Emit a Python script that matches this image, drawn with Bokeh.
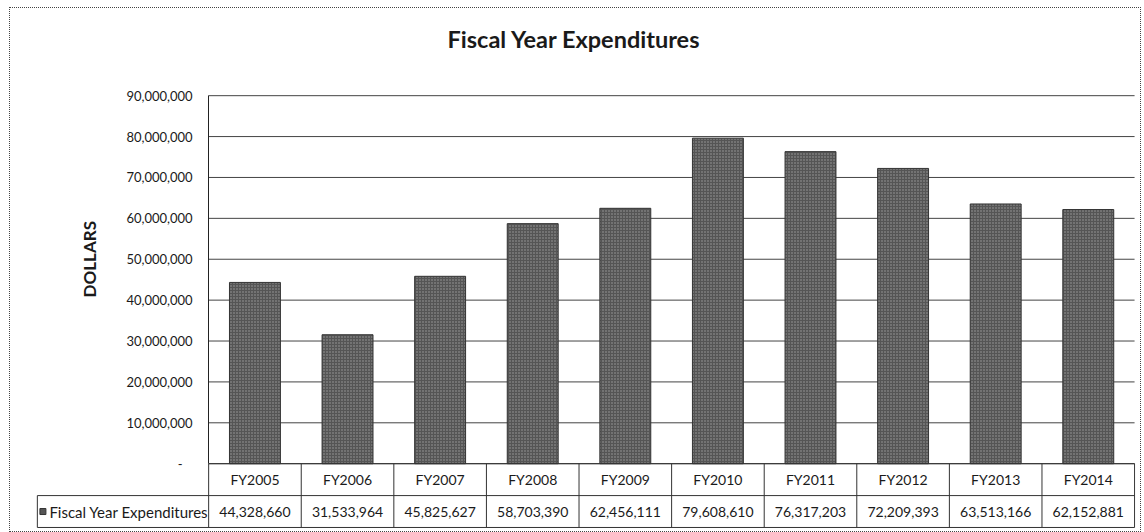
import math
from bokeh.plotting import figure
from bokeh.models import FixedTicker, NumeralTickFormatter, Range1d, ColumnDataSource, Label, Title
from bokeh.core.properties import value
from bokeh.embed import file_html
from bokeh.resources import INLINE

# ---- data ----
categories = ["FY2005", "FY2006", "FY2007", "FY2008", "FY2009",
              "FY2010", "FY2011", "FY2012", "FY2013", "FY2014"]
expenditures = [44328660, 31533964, 45825627, 58703390, 62456111,
                79608610, 76317203, 72209393, 63513166, 62152881]
series_name = "Fiscal Year Expenditures"
chart_title = "Fiscal Year Expenditures"
y_ticks = [0, 10000000, 20000000, 30000000, 40000000, 50000000,
           60000000, 70000000, 80000000, 90000000]

# ---- layout constants ----
FONT = "Lato"
n = len(categories)
centers = [i + 0.5 for i in range(n)]
ROW_H = 7.8e6            # table row height in y data units
LEFT_COL = -1.85         # left edge of the legend column (x units)
Y_MAX = 90e6

p = figure(width=1130, height=523, output_backend="svg", toolbar_location=None,
           x_range=Range1d(-1.87, 10.01), y_range=Range1d(-15.85e6, 92e6),
           min_border_left=25, min_border_right=5, min_border_top=79,
           min_border_bottom=3, x_axis_location=None)
p.margin = (8, 4, 0, 10)
p.styles = {"outline": "1px dotted #444"}
p.outline_line_color = None
p.xgrid.visible = False
p.ygrid.visible = False
p.background_fill_color = "white"
p.border_fill_color = "white"

# title: a blank spacer panel next to the frame, then the real title above it
p.add_layout(Title(text=" ", text_font_size="10px", standoff=22), "above")
p.add_layout(Title(text=chart_title, align="left", offset=412, standoff=0,
                   text_font=FONT, text_font_size="23.5px", text_font_style="bold",
                   text_color="#1a1a1a"), "above")

# y axis placed at x = 0 (start of category columns)
ax = p.yaxis[0]
ax.fixed_location = 0
ax.bounds = (0, Y_MAX)
ax.ticker = FixedTicker(ticks=y_ticks)
ax.formatter = NumeralTickFormatter(format="0,0")
ax.major_label_overrides = {0: "-\u00a0\u00a0\u00a0"}
ax.major_label_text_font = FONT
ax.major_label_text_font_size = "13px"
ax.major_label_text_color = "#1a1a1a"
ax.major_label_standoff = 16
ax.major_tick_out = 0
ax.major_tick_in = 0
ax.minor_tick_out = 0
ax.minor_tick_in = 0
ax.axis_line_color = "#222"

p.add_layout(Label(x=-1.29, y=50e6, text="DOLLARS", angle=math.pi / 2,
                   text_font=FONT, text_font_size="17px", text_font_style="bold",
                   text_align="center", text_baseline="middle", text_color="#1a1a1a"))

# gridlines across the category area
p.segment(x0=[0] * len(y_ticks), x1=[n] * len(y_ticks), y0=y_ticks, y1=y_ticks,
          line_color="#444", line_width=1)

# bars
src = ColumnDataSource(dict(x=centers, top=expenditures, cat=categories))
p.vbar(x="x", top="top", width=0.55, source=src,
       fill_color="#555555", line_color="#333333", line_width=1,
       hatch_pattern="dot", hatch_color="#a0a0a0", hatch_scale=3, hatch_weight=1)

# data table lines
col_edges = list(range(n + 1))
p.segment(x0=col_edges, x1=col_edges, y0=[0] * (n + 1), y1=[-2 * ROW_H] * (n + 1),
          line_color="#333", line_width=1)
p.segment(x0=[LEFT_COL], x1=[LEFT_COL], y0=[-ROW_H], y1=[-2 * ROW_H],
          line_color="#333", line_width=1)
p.segment(x0=[0, LEFT_COL, LEFT_COL], x1=[n, n, n], y0=[0, -ROW_H, -2 * ROW_H],
          y1=[0, -ROW_H, -2 * ROW_H], line_color="#333", line_width=1)

# table texts
p.text(x=centers, y=[-ROW_H / 2] * n, text=categories, text_font=value(FONT),
       text_font_size="14px", text_align="center", text_baseline="middle",
       text_color="#1a1a1a")
p.text(x=centers, y=[-1.5 * ROW_H] * n, text=[f"{v:,}" for v in expenditures],
       text_font=value(FONT), text_font_size="14px", text_align="center",
       text_baseline="middle", text_color="#1a1a1a")
p.scatter(x=[LEFT_COL + 0.06], y=[-1.5 * ROW_H], marker="square", size=6,
          fill_color="#555555", line_color="#333333")
p.text(x=[LEFT_COL + 0.13], y=[-1.5 * ROW_H], text=[series_name], text_font=value(FONT),
       text_font_size="15px", text_align="left", text_baseline="middle",
       text_color="#1a1a1a")

open("out.html", "w").write(file_html(p, INLINE))
